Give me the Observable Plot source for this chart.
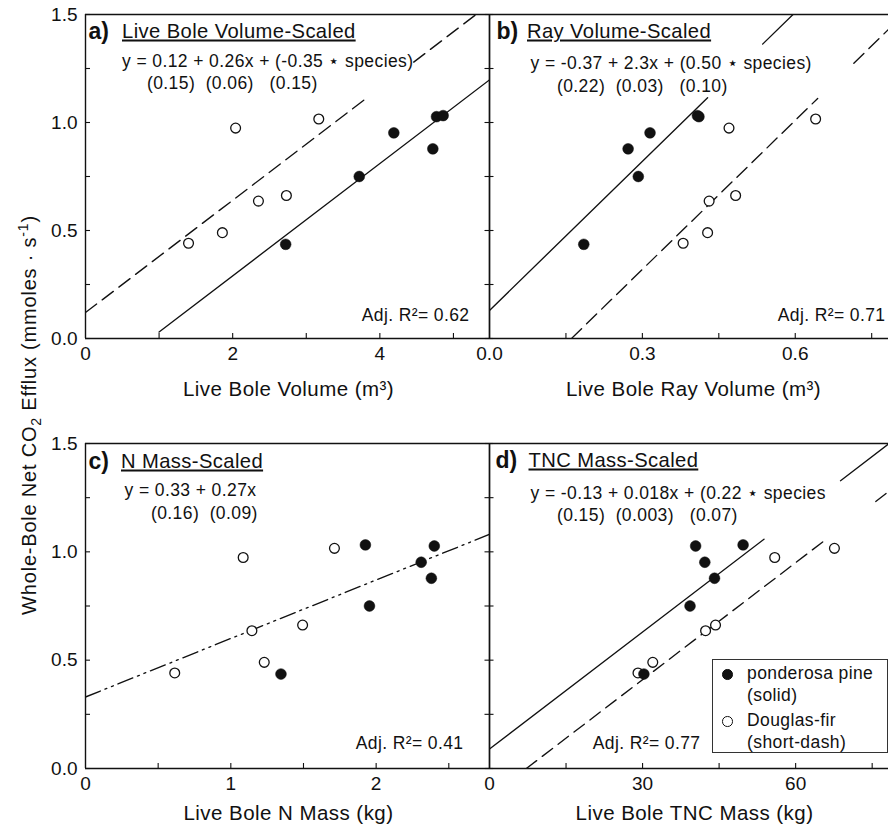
<!DOCTYPE html>
<html>
<head>
<meta charset="utf-8">
<script src="https://cdn.jsdelivr.net/npm/d3@7"></script>
<script src="https://cdn.jsdelivr.net/npm/@observablehq/plot@0.6"></script>
<style>
  body { margin: 0; background: #fff; }
  #fig { position: relative; width: 889px; height: 828px; overflow: hidden; font-family: "Liberation Sans", Arial, sans-serif; color: #111; background: #fff; }
  #fig svg { position: absolute; overflow: visible; max-width: none; background: transparent; }
  #fig svg g[font-size="17.5"] { letter-spacing: 0.4px; }
  #fig svg g[font-size="20.5"] { letter-spacing: 0.45px; }
  #fig svg g[font-size="20.2"] { letter-spacing: 0.4px; }
  #fig svg g[font-size="20.2"] text { text-decoration: underline; }
  #ylab { position: absolute; left: 29px; top: 415px; transform: translate(-50%, -50%) rotate(-90deg); white-space: nowrap; font-size: 20px; letter-spacing: 0.8px; line-height: 1; }
  #ylab sub, #ylab sup { font-size: 0.7em; line-height: 0; }
  #legend { position: absolute; left: 712px; top: 659px; width: 174px; height: 92px; border: 1.2px solid #333; background: #fff; font-size: 17.5px; letter-spacing: 0.4px; }
  #legend .row { position: absolute; left: 34px; white-space: nowrap; line-height: 1; }
  #legend .sw { position: absolute; left: 9px; width: 10.5px; height: 10.5px; border-radius: 50%; box-sizing: border-box; }
</style>
</head>
<body>
<div id="fig"></div>
<script>
// ---------------- data ----------------
// efflux per tree (mmoles s-1), same trees in all panels
const effluxPine = [0.436, 0.750, 0.878, 0.952, 1.027, 1.032];
const effluxFir  = [0.441, 0.490, 0.636, 0.662, 0.974, 1.016];

// a) live bole volume (m3)
const volumePine = [2.72, 3.72, 4.72, 4.19, 4.77, 4.86];
const volumeFir  = [1.40, 1.86, 2.35, 2.73, 2.04, 3.17];
// b) live bole ray volume (m3)
const rayPine = [0.185, 0.292, 0.272, 0.315, 0.411, 0.408];
const rayFir  = [0.380, 0.428, 0.431, 0.483, 0.470, 0.640];
// c) live bole N mass (kg)
const nPine = [1.345, 1.954, 2.38, 2.31, 2.40, 1.926];
const nFir  = [0.614, 1.23, 1.145, 1.494, 1.085, 1.713];
// d) live bole TNC mass (kg)
const tncPine = [30.26, 39.3, 44.1, 42.2, 40.4, 49.7];
const tncFir  = [29.1, 32.0, 42.35, 44.3, 55.9, 67.6];

// fitted models: [intercept, slope, species effect for ponderosa pine]
const fitVolume = [0.12, 0.26, -0.35];
const fitRay    = [-0.37, 2.3, 0.50];
const fitN      = [0.33, 0.27];
const fitTNC    = [-0.13, 0.018, 0.22];

// drawn x-extents of fit line pieces (breaks where the lines stop near the text)
const segVolumeFir  = [[0, 3.83], [4.46, 5.49]];
const segVolumePine = [[1.0, 5.49]];
const segRayPine    = [[0, 0.428], [0.536, 0.783]];
const segRayFir     = [[0.161, 0.644], [0.715, 0.783]];
const segN          = [[0, 2.78]];
const segTNCPine    = [[0, 53.8], [68.8, 78.2]];
const segTNCFir     = [[7.22, 65.6], [75.7, 78.2]];

// axes
const yDomain = [0, 1.5];
const yTicksMinor = [0, 0.25, 0.5, 0.75, 1, 1.25, 1.5];
const yTickLabels = [0, 0.5, 1, 1.5];
const volumeDomain = [0, 5.49], volumeTicks = [0, 2, 4], volumeMinor = [1, 2, 3, 4, 5];
const rayDomain = [0, 0.783], rayTicks = [0, 0.3, 0.6], rayMinor = [0.15, 0.3, 0.45, 0.6, 0.75];
const nDomain = [0, 2.78], nTicks = [0, 1, 2], nMinor = [0.5, 1, 1.5, 2, 2.5];
const tncDomain = [0, 78.2], tncTicks = [0, 30, 60], tncMinor = [15, 30, 45, 60, 75];

// ---------------- helpers ----------------
const fig = document.getElementById("fig");
const INK = "#111";

function table(xs, ys) { return xs.map((x, i) => ({x, y: ys[i]})); }
function fitLine(intercept, slope, segs) {
  const pts = [];
  segs.forEach((s, k) => s.forEach(x => pts.push({x, y: intercept + slope * x, seg: k})));
  return pts;
}

function panel(cfg) {
  const marks = [];
  cfg.lines.forEach(l => marks.push(Plot.line(l.data, {x: "x", y: "y", z: "seg", stroke: INK, strokeWidth: 1.35, strokeDasharray: l.dash, clip: true})));
  marks.push(Plot.ruleY([yDomain[1]], {stroke: INK, strokeWidth: 1.3}));
  marks.push(Plot.ruleY([yDomain[0]], {stroke: INK, strokeWidth: 1.4}));
  marks.push(Plot.ruleX([cfg.xDomain[0]], {stroke: INK, strokeWidth: 1.4}));
  if (cfg.rightRule) marks.push(Plot.ruleX([cfg.xDomain[1]], {stroke: INK, strokeWidth: 1.4}));
  marks.push(Plot.axisY(yTicksMinor, {anchor: "left", tickSize: cfg.yTickSize, dx: cfg.yTickDx, tickFormat: () => "", label: null, strokeWidth: 1.1}));
  marks.push(Plot.axisX(cfg.xMinor, {anchor: "bottom", tickSize: 5, dy: -5, tickFormat: () => "", label: null, strokeWidth: 1.1}));
  if (cfg.yLabels) marks.push(Plot.axisY(yTickLabels, {anchor: "left", tickSize: 0, tickPadding: 8, tickFormat: d3.format(".1f"), fontSize: 19, label: null}));
  marks.push(Plot.axisX(cfg.xTicks, {anchor: "bottom", tickSize: 0, tickPadding: 8, tickFormat: cfg.xFmt, fontSize: 19, label: null}));
  marks.push(Plot.dot(cfg.fir, {x: "x", y: "y", r: 4.9, fill: "white", stroke: INK, strokeWidth: 1.3}));
  marks.push(Plot.dot(cfg.pine, {x: "x", y: "y", r: 5.4, fill: INK, stroke: INK, strokeWidth: 0.5}));
  const t = cfg.text;
  marks.push(Plot.text([t.letter], {frameAnchor: "top-left", dx: t.letterDx, dy: t.titleDy + 1, lineAnchor: "bottom", fontSize: 23, fontWeight: "bold", fill: INK}));
  marks.push(Plot.text([t.title], {frameAnchor: "top-left", dx: t.titleDx, dy: t.titleDy, lineAnchor: "bottom", fontSize: 20.2, fill: INK}));
  marks.push(Plot.text([t.eq1], {frameAnchor: "top-left", dx: t.eqDx, dy: t.eq1Dy, lineAnchor: "bottom", fontSize: 17.5, fill: INK}));
  marks.push(Plot.text([t.eq2], {frameAnchor: "top-left", dx: t.eq2Dx, dy: t.eq2Dy, lineAnchor: "bottom", fontSize: 17.5, fill: INK}));
  marks.push(Plot.text([t.r2], {frameAnchor: t.r2Anchor, dx: t.r2Dx, dy: t.r2Dy, lineAnchor: "bottom", textAnchor: "end", fontSize: 17.5, fill: INK}));
  marks.push(Plot.text([t.xLabel], {frameAnchor: "bottom", dx: t.xLabelDx, dy: t.xLabelDy, lineAnchor: "bottom", fontSize: 20.5, fill: INK}));

  const svg = Plot.plot({
    width: cfg.width, height: cfg.height,
    marginLeft: cfg.ml, marginRight: cfg.mr, marginTop: cfg.mt, marginBottom: cfg.mb,
    x: {domain: cfg.xDomain},
    y: {domain: yDomain},
    style: {fontFamily: '"Liberation Sans", Arial, sans-serif', fontSize: "16px", color: INK, background: "transparent", overflow: "visible"},
    marks
  });
  svg.style.left = cfg.left + "px";
  svg.style.top = cfg.top + "px";
  fig.appendChild(svg);
}

const NB = "\u00A0";
const STAR = "\u22C6";

// a) Live Bole Volume-Scaled
panel({
  left: 0, top: 0, width: 489, height: 410, ml: 85, mr: 0, mt: 14, mb: 72,
  xDomain: volumeDomain, xTicks: volumeTicks, xMinor: volumeMinor, xFmt: d3.format("d"),
  yLabels: true, yTickSize: 5, yTickDx: 5, rightRule: true,
  pine: table(volumePine, effluxPine), fir: table(volumeFir, effluxFir),
  lines: [
    {data: fitLine(fitVolume[0], fitVolume[1], segVolumeFir), dash: "14,7"},
    {data: fitLine(fitVolume[0] + fitVolume[2], fitVolume[1], segVolumePine), dash: null}
  ],
  text: {
    letter: "a)", letterDx: 3, title: "Live Bole Volume-Scaled", titleDx: 36.5, titleDy: 23,
    eq1: `y = 0.12 + 0.26x + (-0.35 ${STAR} species)`, eqDx: 36.5, eq1Dy: 52,
    eq2: `(0.15)${NB}${NB}(0.06)${NB}${NB}${NB}(0.15)`, eq2Dx: 61.5, eq2Dy: 74.5,
    r2: "Adj. R\u00B2= 0.62", r2Anchor: "bottom-right", r2Dx: -20, r2Dy: -18,
    xLabel: "Live Bole Volume (m\u00B3)", xLabelDx: 1, xLabelDy: 57
  }
});

// b) Ray Volume-Scaled
panel({
  left: 489, top: 0, width: 400, height: 410, ml: 0, mr: 1, mt: 14, mb: 72,
  xDomain: rayDomain, xTicks: rayTicks, xMinor: rayMinor, xFmt: d3.format(".1f"),
  yLabels: false, yTickSize: 9, yTickDx: 4.5, rightRule: false,
  pine: table(rayPine, effluxPine), fir: table(rayFir, effluxFir),
  lines: [
    {data: fitLine(fitRay[0] + fitRay[2], fitRay[1], segRayPine), dash: null},
    {data: fitLine(fitRay[0], fitRay[1], segRayFir), dash: "14,7"}
  ],
  text: {
    letter: "b)", letterDx: 7, title: "Ray Volume-Scaled", titleDx: 37.5, titleDy: 23,
    eq1: `y = -0.37 + 2.3x + (0.50 ${STAR} species)`, eqDx: 41, eq1Dy: 54.5,
    eq2: `(0.22)${NB}${NB}(0.03)${NB}${NB}${NB}(0.10)`, eq2Dx: 67.5, eq2Dy: 77,
    r2: "Adj. R\u00B2= 0.71", r2Anchor: "bottom-right", r2Dx: -3, r2Dy: -18,
    xLabel: "Live Bole Ray Volume (m\u00B3)", xLabelDx: 4.5, xLabelDy: 57
  }
});

// c) N Mass-Scaled
panel({
  left: 0, top: 429, width: 489, height: 399, ml: 85, mr: 0, mt: 14, mb: 60,
  xDomain: nDomain, xTicks: nTicks, xMinor: nMinor, xFmt: d3.format("d"),
  yLabels: true, yTickSize: 5, yTickDx: 5, rightRule: true,
  pine: table(nPine, effluxPine), fir: table(nFir, effluxFir),
  lines: [
    {data: fitLine(fitN[0], fitN[1], segN), dash: "16,5,2,5,2,5"}
  ],
  text: {
    letter: "c)", letterDx: 3, title: "N Mass-Scaled", titleDx: 35.5, titleDy: 24,
    eq1: "y = 0.33 + 0.27x", eqDx: 39, eq1Dy: 52.5,
    eq2: `(0.16)${NB}${NB}(0.09)`, eq2Dx: 65.5, eq2Dy: 75,
    r2: "Adj. R\u00B2= 0.41", r2Anchor: "bottom-right", r2Dx: -26, r2Dy: -20,
    xLabel: "Live Bole N Mass (kg)", xLabelDx: 1, xLabelDy: 51
  }
});

// d) TNC Mass-Scaled
panel({
  left: 489, top: 429, width: 400, height: 399, ml: 0, mr: 1, mt: 14, mb: 60,
  xDomain: tncDomain, xTicks: tncTicks, xMinor: tncMinor, xFmt: d3.format("d"),
  yLabels: false, yTickSize: 9, yTickDx: 4.5, rightRule: false,
  pine: table(tncPine, effluxPine), fir: table(tncFir, effluxFir),
  lines: [
    {data: fitLine(fitTNC[0] + fitTNC[2], fitTNC[1], segTNCPine), dash: null},
    {data: fitLine(fitTNC[0], fitTNC[1], segTNCFir), dash: "13,7"}
  ],
  text: {
    letter: "d)", letterDx: 6, title: "TNC Mass-Scaled", titleDx: 39, titleDy: 23,
    eq1: `y = -0.13 + 0.018x + (0.22 ${STAR} species`, eqDx: 41, eq1Dy: 55,
    eq2: `(0.15)${NB}${NB}(0.003)${NB}${NB}${NB}(0.07)`, eq2Dx: 67.5, eq2Dy: 77.5,
    r2: "Adj. R\u00B2= 0.77", r2Anchor: "bottom-left", r2Dx: 211, r2Dy: -20,
    xLabel: "Live Bole TNC Mass (kg)", xLabelDx: 5.5, xLabelDy: 51
  }
});

// shared y-axis title
const ylab = document.createElement("div");
ylab.id = "ylab";
ylab.innerHTML = "Whole-Bole Net CO<sub>2</sub> Efflux (mmoles \u00B7 s<sup>-1</sup>)";
fig.appendChild(ylab);

// legend (panel d)
const legendItems = [
  {name: "ponderosa pine", note: "(solid)", fill: INK},
  {name: "Douglas-fir", note: "(short-dash)", fill: "#fff"}
];
const legend = document.createElement("div");
legend.id = "legend";
legendItems.forEach((it, i) => {
  const base = 5 + i * 47;
  const sw = document.createElement("div");
  sw.className = "sw";
  sw.style.top = (base + 4) + "px";
  sw.style.background = it.fill;
  sw.style.border = "1.3px solid " + INK;
  legend.appendChild(sw);
  const r1 = document.createElement("div");
  r1.className = "row"; r1.style.top = base + "px"; r1.textContent = it.name;
  legend.appendChild(r1);
  const r2 = document.createElement("div");
  r2.className = "row"; r2.style.top = (base + 22) + "px"; r2.textContent = it.note;
  legend.appendChild(r2);
});
fig.appendChild(legend);
</script>
</body>
</html>
